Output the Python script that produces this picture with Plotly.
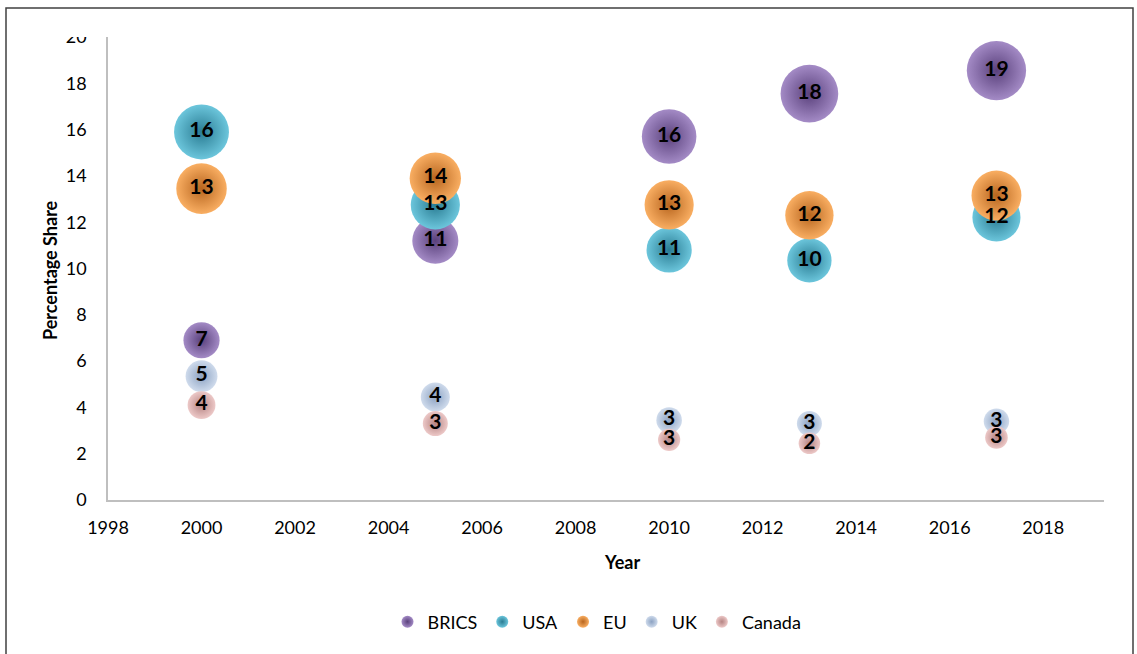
import plotly.graph_objects as go

years = [2000, 2005, 2010, 2013, 2017]
series_names = ["BRICS", "USA", "EU", "UK", "Canada"]
brics = [6.9, 11.2, 15.7, 17.55, 18.55]
usa = [15.9, 12.75, 10.8, 10.35, 12.2]
eu = [13.45, 13.9, 12.75, 12.3, 13.15]
uk = [5.35, 4.45, 3.45, 3.3, 3.4]
canada = [4.1, 3.3, 2.6, 2.45, 2.7]
x_ticks = [1998, 2000, 2002, 2004, 2006, 2008, 2010, 2012, 2014, 2016, 2018]
y_ticks = [0, 2, 4, 6, 8, 10, 12, 14, 16, 18, 20]

values = [brics, usa, eu, uk, canada]
center_colors = ["#A48BC6", "#6CC6DC", "#F9AE62", "#CFDBEC", "#EDC9C8"]
edge_colors = ["#5A417C", "#2A7C93", "#B8661F", "#8CA2C2", "#B58483"]

FONT = "Lato"
diam_k = 13.6
sizeref = 1.95 / (diam_k ** 2)

fig = go.Figure()
for name, vals, cc, ec in zip(series_names, values, center_colors, edge_colors):
    fig.add_trace(go.Scatter(
        x=years, y=vals, name=name, mode="markers",
        marker=dict(size=vals, sizemode="area", sizeref=sizeref,
                    color=cc, gradient=dict(type="radial", color=ec),
                    line=dict(width=0), opacity=1),
        cliponaxis=False,
    ))
for name, vals in zip(series_names, values):
    fig.add_trace(go.Scatter(
        x=years, y=vals, mode="text", texttemplate="%{y:.0f}",
        textposition="middle center",
        textfont=dict(family=FONT, size=21, color="black", weight="bold"),
        showlegend=False, hoverinfo="skip", cliponaxis=False,
    ))

W, H = 1137, 654
L, R, T, B = 108, 33, 37, 154
pw, ph = W - L - R, H - T - B

def px_x(p):
    return (p - L) / pw

def px_y(p):
    return (H - B - p) / ph

fig.update_layout(
    width=W, height=H, autosize=False,
    margin=dict(l=L, r=R, t=T, b=B, pad=0),
    paper_bgcolor="white", plot_bgcolor="white",
    font=dict(family=FONT, size=18, color="black"),
    xaxis=dict(range=[1998, 2019.3], tickvals=x_ticks, showgrid=False, zeroline=False,
               showline=True, linecolor="#BFBFBF", linewidth=1.5, ticks="",
               ticklabelstandoff=11, tickfont=dict(family=FONT, size=18)),
    yaxis=dict(range=[0, 20], tickvals=y_ticks, showgrid=False, zeroline=False,
               showline=True, linecolor="#BFBFBF", linewidth=1.5, ticks="",
               ticklabelstandoff=16, tickfont=dict(family=FONT, size=18)),
    showlegend=True,
    legend=dict(orientation="h", x=px_x(597), xanchor="center", y=px_y(622), yanchor="middle",
                font=dict(family=FONT, size=18), itemsizing="constant",
                bgcolor="rgba(0,0,0,0)", traceorder="normal", itemwidth=30),
    annotations=[
        dict(text="<b>Year</b>", x=px_x(622), y=px_y(562), xref="paper", yref="paper",
             showarrow=False, font=dict(family=FONT, size=18), xanchor="center", yanchor="middle"),
        dict(text="<b>Percentage Share</b>", x=px_x(50), y=px_y(270), xref="paper", yref="paper",
             showarrow=False, textangle=-90, font=dict(family=FONT, size=18),
             xanchor="center", yanchor="middle"),
    ],
    shapes=[
        dict(type="rect", xref="paper", yref="paper", x0=px_x(6), x1=px_x(1133),
             y0=px_y(700), y1=px_y(8), line=dict(color="#404040", width=1.5),
             fillcolor="rgba(0,0,0,0)", layer="above"),
        dict(type="rect", xref="paper", yref="paper", x0=px_x(55), x1=px_x(104),
             y0=px_y(37), y1=px_y(12), line=dict(width=0), fillcolor="white", layer="above"),
    ],
)

fig.write_html("out.html", config={"displayModeBar": False},
               post_script="document.body.style.margin='0';document.body.style.overflow='hidden';")
